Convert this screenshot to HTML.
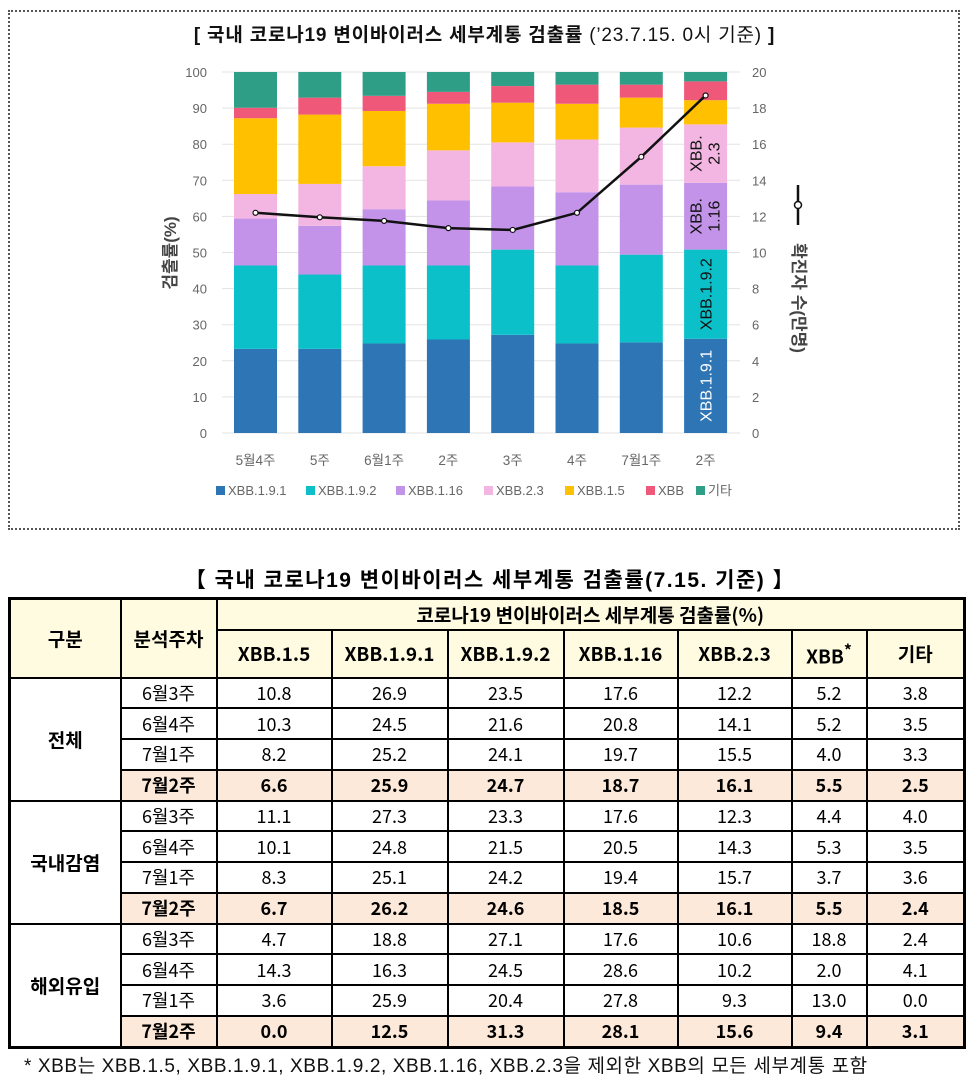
<!DOCTYPE html>
<html><head><meta charset="utf-8">
<style>
body{margin:0;width:969px;height:1082px;background:#fff;font-family:"Liberation Sans","Noto Sans CJK KR",sans-serif;position:relative;overflow:hidden}
#frame{position:absolute;left:8px;top:10px;width:952px;height:520px;border:2px dotted #555;box-sizing:border-box}
#ctitle{position:absolute;left:0;top:20px;width:969px;text-align:center;font-size:19px;font-weight:bold;color:#111;letter-spacing:0.8px}
#chart{position:absolute;left:0;top:0}
#ttitle{position:absolute;left:0;top:564px;width:980px;text-align:center;font-size:21px;font-weight:bold;letter-spacing:1.5px}
table{position:absolute;left:8px;top:597px;width:958px;border-collapse:collapse;border:3px solid #000;font-family:"Noto Sans CJK KR","Liberation Sans",sans-serif}
td,th{border:2px solid #000;text-align:center;padding:0;font-size:18px;line-height:1}
th{background:#fffbe0;font-weight:bold;font-size:19px}
tr.d td{height:28.75px}
tr.h td{background:#fde9d9;font-weight:bold}
td.g{background:#fff!important;font-weight:bold;font-size:19px}
#foot{position:absolute;left:24px;top:1051px;font-size:19px;color:#111;letter-spacing:0.6px}
</style></head><body>
<div id="frame"></div>
<div id="ctitle">[ 국내 코로나19 변이바이러스 세부계통 검출률 <span style="font-weight:normal">(’23.7.15. 0시 기준)</span> ]</div>
<svg id="chart" width="969" height="540"></svg>
<div id="ttitle">【 국내 코로나19 변이바이러스 세부계통 검출률(7.15. 기준) 】</div>
<table>
<colgroup><col style="width:111px"><col style="width:96px"><col style="width:115px"><col style="width:116px"><col style="width:116px"><col style="width:114px"><col style="width:114px"><col style="width:75px"><col></colgroup>
<tr style="height:31px"><th rowspan="2">구분</th><th rowspan="2">분석주차</th><th colspan="7">코로나19 변이바이러스 세부계통 검출률(%)</th></tr>
<tr style="height:48px"><th>XBB.1.5</th><th>XBB.1.9.1</th><th>XBB.1.9.2</th><th>XBB.1.16</th><th>XBB.2.3</th><th>XBB<sup>*</sup></th><th>기타</th></tr>
<tbody id="tb"></tbody>
</table>
<div id="foot">* XBB는 XBB.1.5, XBB.1.9.1, XBB.1.9.2, XBB.1.16, XBB.2.3을 제외한 XBB의 모든 세부계통 포함</div>
<script>
const categories=["5월4주","5주","6월1주","2주","3주","4주","7월1주","2주"];
const seriesNames=["XBB.1.9.1","XBB.1.9.2","XBB.1.16","XBB.2.3","XBB.1.5","XBB","기타"];
const s191=[23.3,23.3,24.8,25.9,27.2,24.8,25.1,26.1];
const s192=[23.1,20.6,21.6,20.5,23.6,21.6,24.3,24.7];
const s116=[13.0,13.5,15.6,18.0,17.5,20.3,19.4,18.5];
const s23=[6.8,11.6,11.9,13.9,12.2,14.6,15.8,16.2];
const s15=[21.0,19.2,15.3,12.9,11.0,9.9,8.3,6.7];
const sXBB=[2.9,4.7,4.2,3.3,4.6,5.3,3.6,5.2];
const sEtc=[9.9,7.1,6.6,5.5,3.9,3.5,3.5,2.6];
const cases=[12.2,11.95,11.75,11.35,11.25,12.2,15.3,18.7];
const leftTicks=[0,10,20,30,40,50,60,70,80,90,100];
const rightTicks=[0,2,4,6,8,10,12,14,16,18,20];
const colors=["#2e75b6","#0cc0c9","#c393ea","#f3b6e2","#ffc000","#f0587a","#2e9e87"];
const NS="http://www.w3.org/2000/svg";
const svg=document.getElementById('chart');
const y0=433,y1=72,x0=255.5,step=64.3,bw=43;
const yL=v=>y0-(v/100)*(y0-y1);
const yR=v=>y0-(v/20)*(y0-y1);
const xC=i=>x0+i*step;
function mk(t,a,txt){const e=document.createElementNS(NS,t);for(const k in a)e.setAttribute(k,a[k]);if(txt!=null)e.textContent=txt;svg.appendChild(e);return e;}
const F='"Liberation Sans","Noto Sans CJK KR",sans-serif';
leftTicks.forEach(v=>{
 const l=mk('line',{x1:222,x2:740,y1:yL(v),y2:yL(v),stroke:'#e3e3e3','stroke-width':1});
 
 
 const t=mk('text',{x:207,y:yL(v)+5,'text-anchor':'end','font-size':13,fill:'#666','font-family':F},v);
 
 
});
rightTicks.forEach(v=>{
 const t=mk('text',{x:752,y:yR(v)+5,'font-size':13,fill:'#666','font-family':F},v);
 
 
});
const series=[s191,s192,s116,s23,s15,sXBB,sEtc];
categories.forEach((c,i)=>{
 let cum=0;
 series.forEach((s,k)=>{
  const r=mk('rect',{x:xC(i)-bw/2,y:yL(cum+s[i]),width:bw,height:yL(cum)-yL(cum+s[i]),fill:colors[k]});
  
  
  cum+=s[i];
 });
 const t=mk('text',{x:xC(i),y:465,'text-anchor':'middle','font-size':13.5,fill:'#666','font-family':F},c);
 
 
});
const li=categories.length-1;
function vlab(txt,cx,cy,fill){const t=mk('text',{x:0,y:0,'text-anchor':'middle','font-size':16,fill:fill,'font-family':F,transform:`translate(${cx},${cy}) rotate(-90)`},txt);}
let c1=s191[li],c2=c1+s192[li],c3=c2+s116[li],c4=c3+s23[li];
vlab('XBB.1.9.1',xC(li)+6,(yL(0)+yL(c1))/2,'#fff');
vlab('XBB.1.9.2',xC(li)+6,(yL(c1)+yL(c2))/2,'#111');
vlab('XBB.',xC(li)-4,(yL(c2)+yL(c3))/2,'#111');vlab('1.16',xC(li)+14,(yL(c2)+yL(c3))/2,'#111');
vlab('XBB.',xC(li)-4,(yL(c3)+yL(c4))/2,'#111');vlab('2.3',xC(li)+14,(yL(c3)+yL(c4))/2,'#111');
const pts=cases.map((v,i)=>xC(i)+','+yR(v)).join(' ');
const pl=mk('polyline',{points:pts,fill:'none',stroke:'#111','stroke-width':2.5});


cases.forEach((v,i)=>{const c=mk('circle',{cx:xC(i),cy:yR(v),r:2.5,fill:'#fff',stroke:'#111','stroke-width':1.2});
 
 });
const yt=mk('text',{x:0,y:0,'text-anchor':'middle','font-size':17,'font-weight':'bold',fill:'#444','font-family':F,transform:'translate(176,253) rotate(-90)'},'검출률(%)');


mk('line',{x1:798,x2:798,y1:185,y2:225,stroke:'#111','stroke-width':2.5});
mk('circle',{cx:798,cy:205,r:3.5,fill:'#fff',stroke:'#111','stroke-width':1.5});
const rt=mk('text',{x:0,y:0,'text-anchor':'middle','font-size':17,'font-weight':'bold',fill:'#444','font-family':F,transform:'translate(793,298) rotate(90)'},'확진자 수(만명)');


const lx=[216,306,396,484,565,646,696];
seriesNames.forEach((n,k)=>{
 mk('rect',{x:lx[k],y:486,width:9,height:9,fill:colors[k]});
 const t=mk('text',{x:lx[k]+12,y:495,'font-size':13,fill:'#666','font-family':F},n);
 
 
});
const groups=["전체","국내감염","해외유입"];
const weeks=["6월3주","6월4주","7월1주","7월2주"];
const tdata=[
[[10.8,26.9,23.5,17.6,12.2,5.2,3.8],[10.3,24.5,21.6,20.8,14.1,5.2,3.5],[8.2,25.2,24.1,19.7,15.5,4.0,3.3],[6.6,25.9,24.7,18.7,16.1,5.5,2.5]],
[[11.1,27.3,23.3,17.6,12.3,4.4,4.0],[10.1,24.8,21.5,20.5,14.3,5.3,3.5],[8.3,25.1,24.2,19.4,15.7,3.7,3.6],[6.7,26.2,24.6,18.5,16.1,5.5,2.4]],
[[4.7,18.8,27.1,17.6,10.6,18.8,2.4],[14.3,16.3,24.5,28.6,10.2,2.0,4.1],[3.6,25.9,20.4,27.8,9.3,13.0,0.0],[0.0,12.5,31.3,28.1,15.6,9.4,3.1]]];
const tb=document.getElementById('tb');
let h='';
groups.forEach((g,gi)=>{weeks.forEach((w,wi)=>{
 h+=`<tr class="d${wi==3?' h':''}">`;
 if(wi==0)h+=`<td rowspan="4" class="g">${g}</td>`;
 h+=`<td>${w}</td>`+tdata[gi][wi].map(v=>`<td>${v.toFixed(1)}</td>`).join('')+'</tr>';
});});
tb.innerHTML=h;
</script>
</body></html>
